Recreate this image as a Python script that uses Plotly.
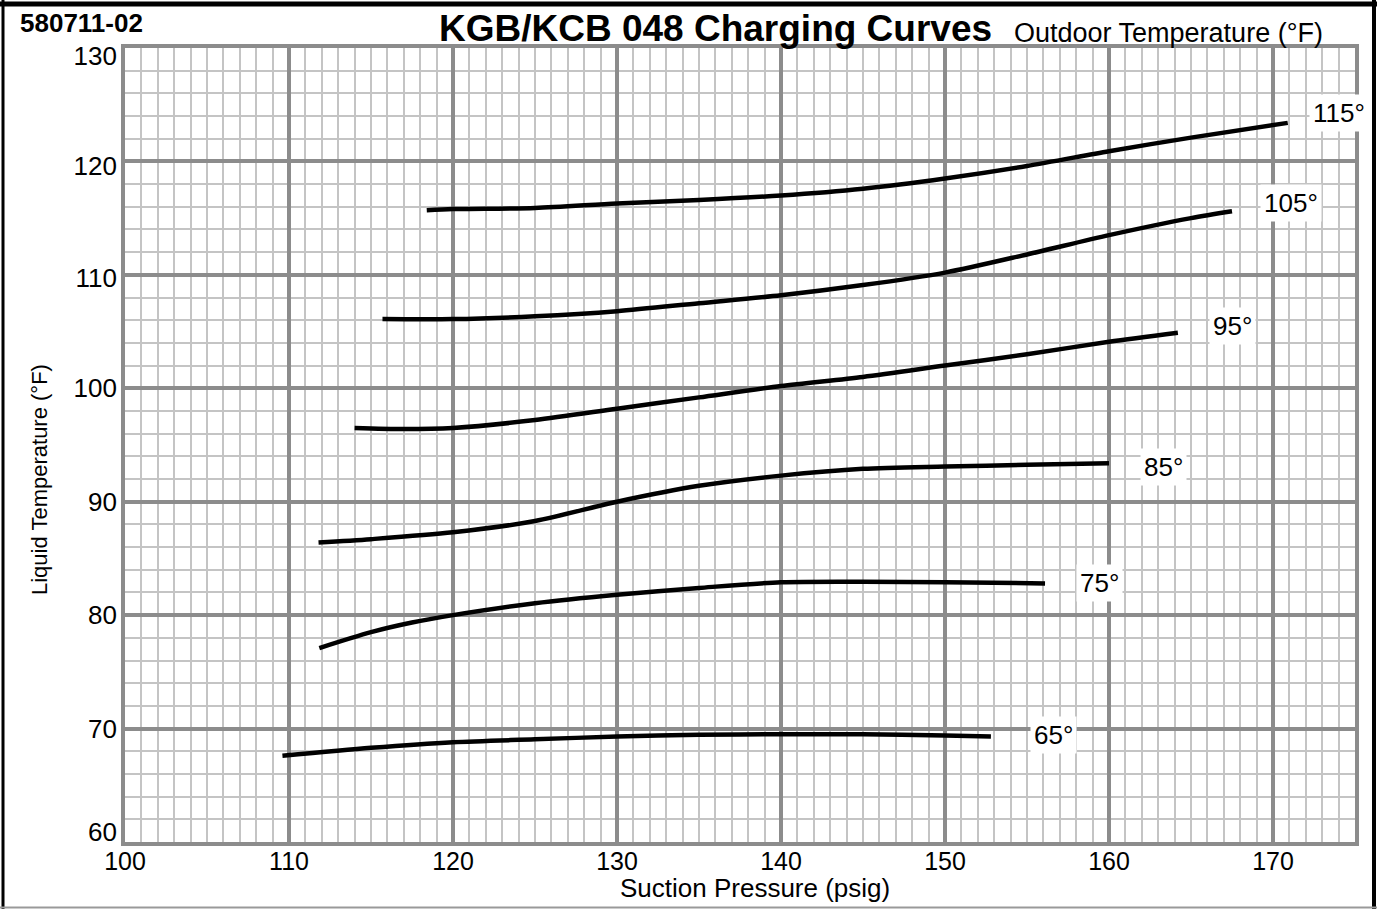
import plotly.graph_objects as go

# ---- data ----
curve_names = ["115°", "105°", "95°", "85°", "75°", "65°"]

x115 = [118.4, 120, 125, 130, 135, 140, 145, 150, 155, 160, 165, 170.9]
y115 = [115.7, 115.8, 115.9, 116.3, 116.6, 117.0, 117.6, 118.5, 119.6, 120.9, 122.1, 123.4]

x105 = [115.7, 120, 125, 130, 135, 140, 145, 150, 155, 160, 165, 167.5]
y105 = [106.1, 106.1, 106.35, 106.8, 107.5, 108.2, 109.1, 110.2, 111.8, 113.5, 115.0, 115.6]

x95 = [114.0, 117, 120, 125, 130, 135, 140, 145, 150, 155, 160, 164.2]
y95 = [96.5, 96.4, 96.5, 97.2, 98.2, 99.2, 100.2, 101.0, 102.0, 103.0, 104.1, 104.9]

x85 = [111.8, 115, 120, 125, 130, 135, 140, 145, 150, 155, 160.0]
y85 = [86.4, 86.7, 87.3, 88.3, 90.0, 91.4, 92.3, 92.9, 93.1, 93.25, 93.4]

x75 = [111.85, 115, 117.5, 120, 125, 130, 135, 140, 145, 150, 156.1]
y75 = [77.1, 78.5, 79.35, 80.0, 81.05, 81.8, 82.4, 82.9, 82.95, 82.9, 82.8]

x65 = [109.6, 115, 120, 125, 130, 135, 140, 145, 150, 152.8]
y65 = [67.6, 68.3, 68.8, 69.05, 69.3, 69.45, 69.5, 69.5, 69.4, 69.3]

label_x = [174.0, 171.1, 167.5, 163.3, 159.4, 156.6]
label_y = [124.3, 116.3, 105.5, 93.05, 82.8, 69.4]

x_ticks = [100, 110, 120, 130, 140, 150, 160, 170]
y_ticks = [60, 70, 80, 90, 100, 110, 120, 130]

series_x = [x115, x105, x95, x85, x75, x65]
series_y = [y115, y105, y95, y85, y75, y65]

# ---- layout constants ----
W, H = 1377, 909
ML, MR, MT, MB = 125, 22, 48, 67
PW, PH = W - ML - MR, H - MT - MB
FONT = "Liberation Sans, Arial, sans-serif"
# vertical nudges of the y tick labels as drawn in the reference (axis units)
y_label_nudge = [0.85, 0.0, 0.0, 0.0, 0.0, -0.25, -0.35, -0.7]


def px(xp):
    return (xp - ML) / PW


def py(yp):
    return (H - MB - yp) / PH


fig = go.Figure()
for name, xs, ys in zip(curve_names, series_x, series_y):
    fig.add_trace(go.Scatter(x=xs, y=ys, mode="lines", name=name,
                             line=dict(color="black", width=4.5, shape="spline", smoothing=0.8),
                             showlegend=False, hoverinfo="skip"))
# invisible helper trace so the label axis is drawn
fig.add_trace(go.Scatter(x=[None], y=[None], yaxis="y2", showlegend=False, hoverinfo="skip"))

annotations = []
for t, lx, ly in zip(curve_names, label_x, label_y):
    annotations.append(dict(x=lx, y=ly, xref="x", yref="y", text=t, showarrow=False,
                            font=dict(family=FONT, size=26, color="black"),
                            bgcolor="white", borderpad=3, xanchor="center", yanchor="middle"))

annotations += [
    dict(x=px(437), y=py(28), xref="paper", yref="paper", text="<b>KGB/KCB 048 Charging Curves</b>",
         showarrow=False, xanchor="left", yanchor="middle",
         font=dict(family=FONT, size=37, color="black")),
    dict(x=px(1012), y=py(33), xref="paper", yref="paper", text="Outdoor Temperature (°F)",
         showarrow=False, xanchor="left", yanchor="middle",
         font=dict(family=FONT, size=27, color="black")),
    dict(x=px(18), y=py(23), xref="paper", yref="paper", text="<b>580711-02</b>",
         showarrow=False, xanchor="left", yanchor="middle",
         font=dict(family=FONT, size=26, color="black")),
    dict(x=px(755), y=py(888), xref="paper", yref="paper", text="Suction Pressure (psig)",
         showarrow=False, xanchor="center", yanchor="middle",
         font=dict(family=FONT, size=26, color="black")),
    dict(x=px(40), y=py(480), xref="paper", yref="paper", text="Liquid Temperature (°F)",
         showarrow=False, xanchor="center", yanchor="middle", textangle=-90,
         font=dict(family=FONT, size=22, color="black")),
]

shapes = [
    dict(type="line", xref="paper", yref="paper", x0=px(0), x1=px(W), y0=py(4), y1=py(4),
         line=dict(color="black", width=5)),
    dict(type="line", xref="paper", yref="paper", x0=px(3), x1=px(3), y0=py(0), y1=py(H),
         line=dict(color="black", width=3)),
    dict(type="line", xref="paper", yref="paper", x0=px(1374), x1=px(1374), y0=py(0), y1=py(H),
         line=dict(color="black", width=4)),
    dict(type="line", xref="paper", yref="paper", x0=px(0), x1=px(W), y0=py(907.5), y1=py(907.5),
         line=dict(color="#999999", width=2)),
]

axis_common = dict(
    showgrid=True, gridcolor="#8c8c8c", gridwidth=4,
    showline=True, linecolor="#8c8c8c", linewidth=4, mirror=True,
    zeroline=False, ticks="",
    layer="below traces",
)

fig.update_layout(
    width=W, height=H,
    margin=dict(l=ML, r=MR, t=MT, b=MB, pad=0),
    paper_bgcolor="white", plot_bgcolor="white",
    xaxis=dict(range=[100, 175], tickmode="array", tickvals=x_ticks,
               tickfont=dict(family=FONT, size=25, color="black"), ticklabelstandoff=-6,
               minor=dict(dtick=1, tick0=100, showgrid=True, gridcolor="#c4c4c4", gridwidth=2),
               **axis_common),
    yaxis=dict(range=[60, 130], tickmode="array", tickvals=y_ticks, showticklabels=False,
               minor=dict(dtick=2, tick0=60, showgrid=True, gridcolor="#c4c4c4", gridwidth=2),
               **axis_common),
    yaxis2=dict(range=[60, 130], overlaying="y", side="left", showgrid=False, zeroline=False,
                showline=False, ticks="", tickmode="array", ticklabelstandoff=7,
                tickvals=[v + d for v, d in zip(y_ticks, y_label_nudge)],
                ticktext=[str(v) for v in y_ticks],
                tickfont=dict(family=FONT, size=26, color="black")),
    annotations=annotations,
    shapes=shapes,
)

fig.write_html("out.html", config={"displayModeBar": False},
               post_script="document.body.style.margin='0';document.body.style.overflow='hidden';")
